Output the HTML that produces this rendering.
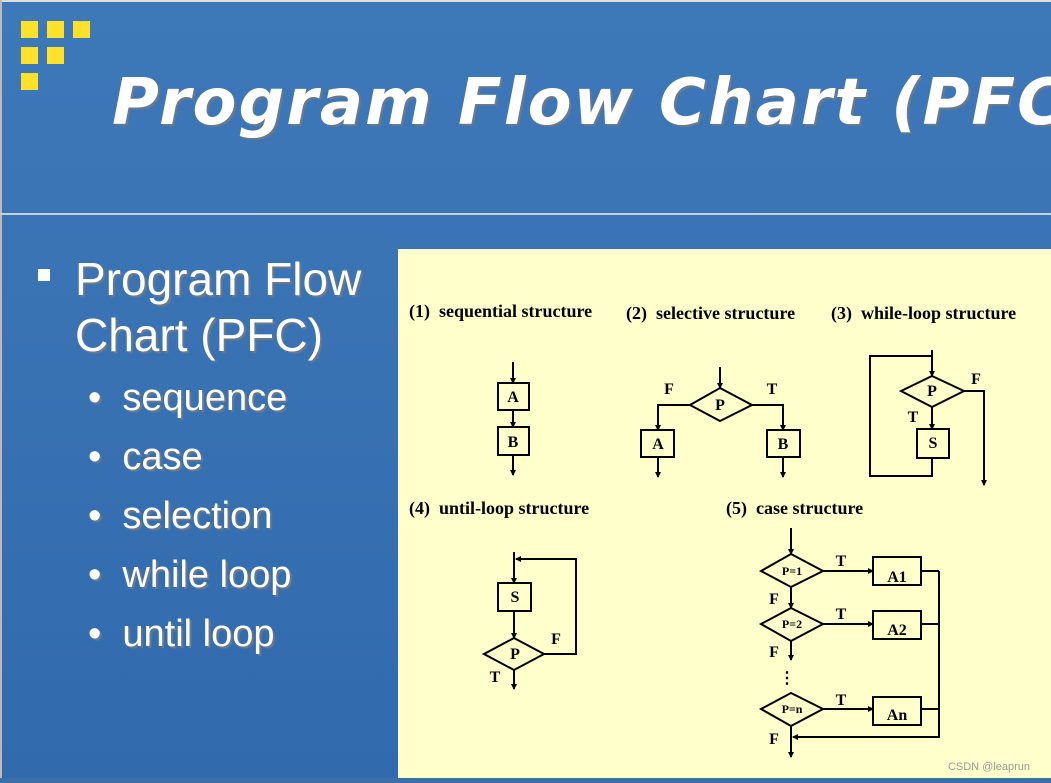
<!DOCTYPE html>
<html><head><meta charset="utf-8"><style>
html,body{margin:0;padding:0;}
body{width:1051px;height:783px;position:relative;overflow:hidden;background:#3a73b5;font-family:"Liberation Sans",sans-serif;}
.bg{position:absolute;left:0;top:0;width:1051px;height:783px;background:linear-gradient(180deg,#3d78b9 0%,#3a73b4 40%,#316aad 100%);}
.topb{position:absolute;left:0;top:0;width:1051px;height:2px;background:#ddd;}
.lb{position:absolute;left:0;top:0;width:2px;height:783px;background:#bbb;}
.div{position:absolute;left:0;top:213px;width:1051px;height:2px;background:#c8d0dc;}
.sq{position:absolute;width:17px;height:17px;background:#ffe02a;}
.t{position:absolute;color:#fff;text-shadow:2px 2px 1px #6a7a8a;white-space:nowrap;}
.panel{position:absolute;left:398px;top:249px;width:653px;height:529px;background:#ffffcc;}
.bot{position:absolute;left:0;top:778px;width:1051px;height:5px;background:#3a6fa8;}
</style></head><body>
<div class="bg"></div><div class="topb"></div><div class="lb"></div><div class="div"></div>
<div class="sq" style="left:21px;top:21px"></div><div class="sq" style="left:47px;top:21px"></div><div class="sq" style="left:73px;top:21px"></div>
<div class="sq" style="left:21px;top:47px"></div><div class="sq" style="left:47px;top:47px"></div>
<div class="sq" style="left:21px;top:73px"></div>
<div class="t" style="left:112px;top:66px;font-family:'DejaVu Sans',sans-serif;font-style:oblique;font-weight:bold;font-size:64px;letter-spacing:2px;">Program Flow Chart (PFC)</div>
<div class="t" style="left:38px;top:269px;width:12px;height:12px;background:#fff;"></div>
<div class="t" style="left:75px;top:251px;font-size:46px;line-height:56px;">Program Flow<br>Chart (PFC)</div>
<div class="t" style="left:88px;top:369px;font-size:38px;line-height:59px;">•&nbsp; sequence<br>•&nbsp; case<br>•&nbsp; selection<br>•&nbsp; while loop<br>•&nbsp; until loop</div>
<div class="panel"></div><div class="bot"></div>
<svg style="position:absolute;left:0;top:0" width="1051" height="783" viewBox="0 0 1051 783">
<defs><marker id="a" markerWidth="6" markerHeight="6" refX="5" refY="3" orient="auto" markerUnits="userSpaceOnUse"><path d="M0,0 L6,3 L0,6 z" fill="#000"/></marker></defs>
<g font-family="Liberation Serif,serif" font-weight="bold" font-size="18" fill="#000">
<text x="409" y="317">(1)&#160; sequential structure</text>
<text x="626" y="319">(2)&#160; selective structure</text>
<text x="831" y="319">(3)&#160; while-loop structure</text>
<text x="409" y="514">(4)&#160; until-loop structure</text>
<text x="726" y="514">(5)&#160; case structure</text>
</g>
<g stroke="#000" stroke-width="2" fill="none">
<line x1="513" y1="362" x2="513" y2="383" marker-end="url(#a)"/>
<rect x="498" y="383" width="31" height="27"/>
<line x1="513" y1="410" x2="513" y2="427" marker-end="url(#a)"/>
<rect x="498" y="427" width="31" height="28"/>
<line x1="513" y1="455" x2="513" y2="475" marker-end="url(#a)"/>
<line x1="720" y1="367" x2="720" y2="388" marker-end="url(#a)"/>
<polygon points="720,388 752,405 720,421 690,405"/>
<polyline points="690,405 658,405 658,430" marker-end="url(#a)"/>
<polyline points="752,405 783,405 783,430" marker-end="url(#a)"/>
<rect x="641" y="430" width="33" height="27"/><rect x="767" y="430" width="33" height="27"/>
<line x1="658" y1="457" x2="658" y2="477" marker-end="url(#a)"/>
<line x1="783" y1="457" x2="783" y2="477" marker-end="url(#a)"/>
<line x1="932" y1="350" x2="932" y2="376" marker-end="url(#a)"/>
<polygon points="932,376 964,391 932,407 901,391"/>
<polyline points="964,391 984,391 984,485" marker-end="url(#a)"/>
<line x1="932" y1="407" x2="932" y2="429" marker-end="url(#a)"/>
<rect x="917" y="429" width="32" height="29"/>
<polyline points="932,458 932,476 870,476 870,356 932,356"/>
<line x1="514" y1="552" x2="514" y2="583" marker-end="url(#a)"/>
<rect x="498" y="583" width="33" height="28"/>
<line x1="514" y1="611" x2="514" y2="638" marker-end="url(#a)"/>
<polygon points="514,638 544,654 514,670 484,654"/>
<polyline points="544,654 576,654 576,559 516,559" marker-end="url(#a)"/>
<line x1="514" y1="670" x2="514" y2="689" marker-end="url(#a)"/>
<line x1="791" y1="528" x2="791" y2="554" marker-end="url(#a)"/>
<polygon points="791,554 823,571 791,587 761,571"/>
<line x1="823" y1="571" x2="873" y2="571" marker-end="url(#a)"/>
<rect x="873" y="557" width="48" height="28"/>
<line x1="791" y1="587" x2="791" y2="608" marker-end="url(#a)"/>
<polygon points="791,608 823,624 791,641 761,624"/>
<line x1="823" y1="624" x2="873" y2="624" marker-end="url(#a)"/>
<rect x="873" y="611" width="48" height="28"/>
<line x1="791" y1="641" x2="791" y2="660" marker-end="url(#a)"/>
<polygon points="791,693 823,709 791,726 761,709"/>
<line x1="823" y1="709" x2="873" y2="709" marker-end="url(#a)"/>
<rect x="873" y="697" width="48" height="28"/>
<line x1="921" y1="571" x2="939" y2="571"/><line x1="921" y1="624" x2="939" y2="624"/><line x1="921" y1="709" x2="939" y2="709"/>
<polyline points="939,571 939,737 793,737" marker-end="url(#a)"/>
<line x1="791" y1="726" x2="791" y2="757" marker-end="url(#a)"/>
</g>
<g font-family="Liberation Serif,serif" font-weight="bold" font-size="16" fill="#000" text-anchor="middle">
<text x="513" y="402">A</text><text x="513" y="447">B</text>
<text x="720" y="410">P</text><text x="658" y="449">A</text><text x="783" y="449">B</text>
<text x="669" y="394">F</text><text x="772" y="394">T</text>
<text x="932" y="396">P</text><text x="976" y="384">F</text><text x="913" y="422">T</text><text x="933" y="448">S</text>
<text x="515" y="602">S</text><text x="515" y="659">P</text><text x="556" y="644">F</text><text x="495" y="682">T</text>
<text x="897" y="582">A1</text><text x="897" y="635">A2</text><text x="897" y="720">An</text>
<text x="841" y="566">T</text><text x="841" y="619">T</text><text x="841" y="705">T</text>
<text x="774" y="604">F</text><text x="774" y="657">F</text><text x="774" y="744">F</text>
<text x="787" y="683">⋮</text>
</g>
<g font-family="Liberation Serif,serif" font-weight="bold" font-size="12" fill="#000" text-anchor="middle">
<text x="792" y="575">P=1</text><text x="792" y="628">P=2</text><text x="792" y="713">P=n</text>
</g>
<text x="989" y="770" font-family="Liberation Sans,sans-serif" font-size="11" fill="#999" text-anchor="middle">CSDN @leaprun</text>
</svg>
</body></html>
